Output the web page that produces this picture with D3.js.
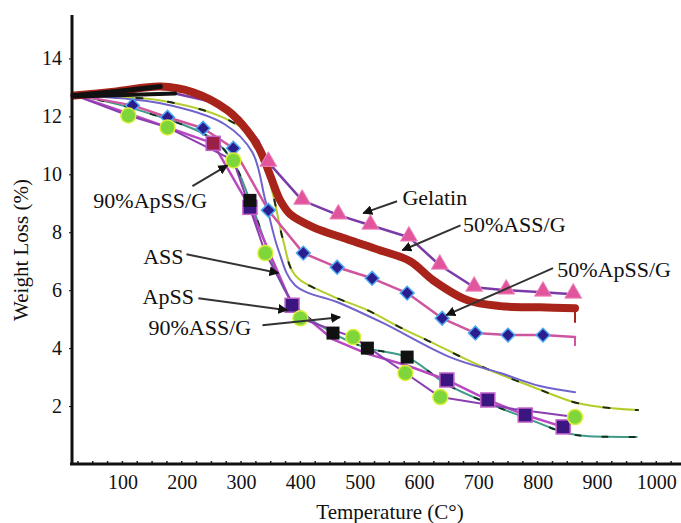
<!DOCTYPE html>
<html>
<head>
<meta charset="utf-8">
<script src="https://cdn.jsdelivr.net/npm/d3@7"></script>
<style>
body { margin: 0; background: #fff; }
text { font-family: "Liberation Serif", "Times New Roman", serif; fill: #111; }
</style>
</head>
<body>
<svg width="681" height="523"></svg>
<script>
// tick labels
var tempTicks = [100, 200, 300, 400, 500, 600, 700, 800, 900, 1000];
var weightTicks = [2, 4, 6, 8, 10, 12, 14];

// series values [temperature, weight loss]
var ass50 = [[19,12.72],[90,12.86],[164,13.03],[219,12.83],[277,12.21],[310,11.52],[332,10.83],[349,9.97],[366,9.1],[383,8.62],[422,8.17],[479,7.76],[534,7.38],[585,7.0],[624,6.34],[681,5.66],[737,5.45],[804,5.41],[863,5.38]];
var gelatin = [[19,12.69],[189,12.79],[256,12.48],[299,11.93],[329,11.17],[346,10.41],[403,9.10],[464,8.59],[518,8.24],[583,7.83],[635,6.86],[693,6.10],[747,6.0],[809,5.93],[860,5.86]];
var gelatinMarks = [[346,10.41],[403,9.10],[464,8.59],[518,8.24],[583,7.83],[635,6.86],[693,6.10],[747,6.0],[809,5.93],[860,5.86]];
var apss50 = [[15.5,12.76],[117,12.38],[176,11.97],[236,11.59],[287,10.90],[346,8.76],[405,7.28],[462,6.79],[521,6.41],[580,5.90],[639,5.03],[695,4.52],[750,4.45],[809,4.45],[863,4.38]];
var apss50Marks = [[117,12.38],[176,11.97],[236,11.59],[287,10.90],[346,8.76],[405,7.28],[462,6.79],[521,6.41],[580,5.90],[639,5.03],[695,4.52],[750,4.45],[809,4.45]];
var apss90 = [[15.5,12.76],[110,12.03],[176,11.62],[287,10.48],[341,7.28],[400,5.03],[489,4.38],[577,3.14],[636,2.31],[760,1.9],[863,1.62]];
var apss90Marks = [[110,12.03],[176,11.62],[287,10.48],[341,7.28],[400,5.03],[489,4.38],[577,3.14],[636,2.31],[863,1.62]];
var apss = [[15.5,12.76],[110,12.1],[253,11.07],[315,8.86],[386,5.48],[455,4.3],[513,3.8],[580,3.4],[647,2.90],[716,2.21],[779,1.69],[843,1.28]];
var apssMarks = [[253,11.07],[315,8.86],[386,5.48],[647,2.90],[716,2.21],[779,1.69],[843,1.28]];
var ass90 = [[15.5,12.76],[130,12.2],[253,11.2],[290,10.3],[315,9.1],[386,5.6],[455,4.52],[513,4.0],[580,3.69],[647,2.75],[716,2.1],[779,1.6],[843,1.1],[872,0.98],[967,0.93]];
var ass90Marks = [[315,9.1],[455,4.52],[513,4.0],[580,3.69]];
var ass = [[15.5,12.72],[164,12.45],[273,11.72],[319,10.76],[341,9.10],[363,7.38],[391,6.17],[467,5.55],[540,4.86],[652,3.69],[737,3.14],[804,2.69],[863,2.48]];
var apssPlain = [[15.5,12.72],[164,12.55],[273,11.93],[324,11.17],[352,9.45],[371,7.72],[391,6.52],[450,5.83],[513,5.31],[568,4.72],[624,4.17],[708,3.34],[792,2.66],[860,2.14],[905,1.97],[969,1.86]];

// annotation texts: [text, textT, textW, fromT, fromW, toT, toW]
var notes = [
  ["90%ApSS/G", 51, 8.83, 218, 9.59, 277, 10.31],
  ["ASS", 135, 6.9, 208, 7.24, 363, 6.59],
  ["ApSS", 134, 5.52, 228, 5.72, 378, 5.31],
  ["90%ASS/G", 144, 4.45, 336, 4.79, 467, 5.07],
  ["Gelatin", 572, 8.93, 563, 9.07, 506, 8.66],
  ["50%ASS/G", 674, 8.0, 670, 8.24, 572, 7.38],
  ["50%ApSS/G", 833, 6.45, 826, 6.76, 646, 5.14]
];

var svg = d3.select("svg");
var x = d3.scaleLinear().domain([15, 1040]).range([72, 680]);
var y = d3.scaleLinear().domain([0, 15.5]).range([464, 15]);

var defs = svg.append("defs");
defs.append("marker")
  .attr("id", "arrow")
  .attr("viewBox", "0 0 10 10")
  .attr("refX", 9).attr("refY", 5)
  .attr("markerWidth", 5).attr("markerHeight", 5)
  .attr("markerUnits", "strokeWidth")
  .attr("orient", "auto")
  .append("path").attr("d", "M0,0L10,5L0,10z").attr("fill", "#111");

var lineLin = d3.line().x(d => x(d[0])).y(d => y(d[1]));
var lineSmooth = d3.line().x(d => x(d[0])).y(d => y(d[1])).curve(d3.curveCatmullRom);

function drawLine(data, color, w, smooth) {
  return svg.append("path")
    .datum(data)
    .attr("d", smooth ? lineSmooth : lineLin)
    .attr("fill", "none")
    .attr("stroke", color)
    .attr("stroke-width", w)
    .attr("stroke-linejoin", "round")
    .attr("stroke-linecap", "round");
}

// thin lines
drawLine(ass90, "#3f9a86", 2, true);
drawLine(ass90, "#123322", 2, true).attr("stroke-dasharray", "5,22");
drawLine(apssPlain, "#b5cc2a", 2, true);
drawLine(apssPlain, "#1c2a18", 2, true).attr("stroke-dasharray", "6,26");
drawLine(ass, "#6f63cc", 2, true);
drawLine(apss, "#b848c0", 2.5, false);
drawLine(apss90, "#8a3fb0", 2, false);
drawLine(apss50, "#d0559f", 2.5, false);
drawLine([apss50[apss50.length - 1], [863, 4.1]], "#d0559f", 2, false);
drawLine(gelatin, "#7a3aa8", 2.5, false);

// thick red
drawLine(ass50, "#a8231a", 8, true);
drawLine([ass50[ass50.length - 1], [863, 4.9]], "#a8231a", 2, false);
drawLine(ass50.filter(d => d[0] <= 164), "#111", 5, false);
drawLine(gelatin.filter(d => d[0] <= 189), "#111", 4, false);

// markers
svg.append("g").selectAll("path")
  .data(gelatinMarks).enter().append("path")
  .attr("transform", d => "translate(" + x(d[0]) + "," + (y(d[1]) - 1) + ")")
  .attr("d", d3.symbol().type(d3.symbolTriangle).size(125))
  .attr("fill", "#e0559c").attr("stroke", "#f08cc0").attr("stroke-width", 1);

svg.append("g").selectAll("path")
  .data(apss50Marks).enter().append("path")
  .attr("transform", d => "translate(" + x(d[0]) + "," + y(d[1]) + ") rotate(45)")
  .attr("d", d3.symbol().type(d3.symbolSquare).size(95))
  .attr("fill", "#2b1d8e").attr("stroke", "#4da8f0").attr("stroke-width", 1.5);

svg.append("g").selectAll("rect")
  .data(apssMarks).enter().append("rect")
  .attr("x", d => x(d[0]) - 7).attr("y", d => y(d[1]) - 7)
  .attr("width", 14).attr("height", 14)
  .attr("fill", (d, i) => i == 0 ? "#9a2048" : "#3b1680")
  .attr("stroke", "#c060c8").attr("stroke-width", 1.5);

svg.append("g").selectAll("rect")
  .data(ass90Marks).enter().append("rect")
  .attr("x", d => x(d[0]) - 6.5).attr("y", d => y(d[1]) - 6.5)
  .attr("width", 13).attr("height", 13)
  .attr("fill", "#111");

svg.append("g").selectAll("circle")
  .data(apss90Marks).enter().append("circle")
  .attr("cx", d => x(d[0])).attr("cy", d => y(d[1]))
  .attr("r", 7.5)
  .attr("fill", "#7fd63a").attr("stroke", "#dcee3a").attr("stroke-width", 1.5);

// axes
var yAxis = svg.append("g")
  .attr("transform", "translate(72,0)")
  .call(d3.axisLeft(y).tickValues(weightTicks).tickSize(3).tickPadding(7));
yAxis.select(".domain").remove();
yAxis.selectAll("text").attr("font-size", 20).attr("font-family", "Liberation Serif");

var xAxis = svg.append("g")
  .attr("transform", "translate(0,464)")
  .call(d3.axisBottom(x).tickValues(tempTicks).tickFormat(d3.format("d")).tickSize(0).tickPadding(11));
xAxis.select(".domain").remove();
xAxis.selectAll("text").attr("font-size", 20).attr("font-family", "Liberation Serif");

svg.append("g").selectAll("line")
  .data(d3.range(25, 1040, 25)).enter().append("line")
  .attr("x1", d => x(d)).attr("x2", d => x(d))
  .attr("y1", 464).attr("y2", 461)
  .attr("stroke", "#222").attr("stroke-width", 1.5);

svg.append("line").attr("x1", 72).attr("x2", 72).attr("y1", 15).attr("y2", 465)
  .attr("stroke", "#111").attr("stroke-width", 3);
svg.append("line").attr("x1", 70).attr("x2", 681).attr("y1", 464).attr("y2", 464)
  .attr("stroke", "#111").attr("stroke-width", 3);

svg.append("text")
  .attr("x", 390).attr("y", 519)
  .attr("text-anchor", "middle").attr("font-size", 21)
  .text("Temperature (C°)");
svg.append("text")
  .attr("transform", "translate(28,250) rotate(-90)")
  .attr("text-anchor", "middle").attr("font-size", 21)
  .text("Weight Loss (%)");

// annotations
notes.forEach(function(n) {
  svg.append("line")
    .attr("x1", x(n[3])).attr("y1", y(n[4]))
    .attr("x2", x(n[5])).attr("y2", y(n[6]))
    .attr("stroke", "#333").attr("stroke-width", 2)
    .attr("marker-end", "url(#arrow)");
  svg.append("text")
    .attr("x", x(n[1])).attr("y", y(n[2]))
    .attr("font-size", 22)
    .text(n[0]);
});
</script>
</body>
</html>
